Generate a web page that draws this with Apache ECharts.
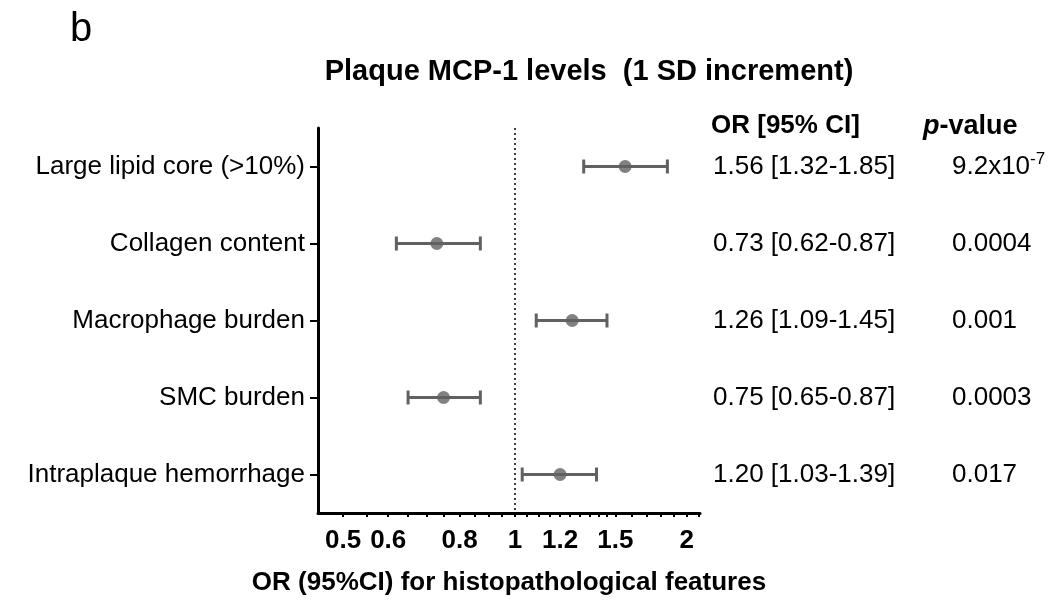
<!DOCTYPE html>
<html>
<head>
<meta charset="utf-8">
<script src="https://cdn.jsdelivr.net/npm/echarts@6/dist/echarts.min.js"></script>
<style>html,body{margin:0;padding:0;background:#fff;}#c{width:1053px;height:601px;}</style>
</head>
<body>
<div id="c"></div>
<script>
const categories = ['Large lipid core (>10%)', 'Collagen content', 'Macrophage burden', 'SMC burden', 'Intraplaque hemorrhage'];
const orValues = [1.56, 0.73, 1.26, 0.75, 1.20];
const ciLower = [1.32, 0.62, 1.09, 0.65, 1.03];
const ciUpper = [1.85, 0.87, 1.45, 0.87, 1.39];
const orText = ['1.56 [1.32-1.85]', '0.73 [0.62-0.87]', '1.26 [1.09-1.45]', '0.75 [0.65-0.87]', '1.20 [1.03-1.39]'];
const pText = ['9.2x10{sup|-7}', '0.0004', '0.001', '0.0003', '0.017'];
const xTickLabels = [0.5, 0.6, 0.8, 1, 1.2, 1.5, 2];
const xMinorTicks = [0.45, 0.5, 0.55, 0.6, 0.65, 0.7, 0.75, 0.8, 0.85, 0.9, 0.95, 1, 1.05, 1.1, 1.15, 1.2, 1.25, 1.3, 1.35, 1.4, 1.45, 1.5, 1.6, 1.7, 1.8, 1.9, 2, 2.1];
const xMin = 0.452, xMax = 2.11;

const lg = v => Math.log10(v);
const FONT = '"Liberation Sans", Arial, Helvetica, sans-serif';
const barColor = '#616161';

const chart = echarts.init(document.getElementById('c'), null, {renderer: 'canvas'});

const errData = categories.map((c, i) => [lg(ciLower[i]), lg(ciUpper[i]), i]);
const ptData = categories.map((c, i) => [lg(orValues[i]), i]);

chart.setOption({
  animation: false,
  backgroundColor: '#fff',
  textStyle: {fontFamily: FONT},
  title: [
    {text: 'b', left: 65, top: 5, textStyle: {fontSize: 40, fontWeight: 'normal', color: '#000', fontFamily: FONT}},
    {text: 'Plaque MCP-1 levels  (1 SD increment)', left: 584, textAlign: 'center', top: 52, textStyle: {fontSize: 29, fontWeight: 'bold', color: '#000', fontFamily: FONT}},
    {text: 'OR [95% CI]', left: 706, top: 108, textStyle: {fontSize: 26, fontWeight: 'bold', color: '#000', fontFamily: FONT}},
    {text: '{i|p}-value', left: 918, top: 108, textStyle: {fontSize: 27, fontWeight: 'bold', color: '#000', fontFamily: FONT,
      rich: {i: {fontSize: 27, fontWeight: 'bold', fontStyle: 'italic', color: '#000', fontFamily: FONT}}}}
  ],
  grid: {left: 318, right: 353, top: 128, bottom: 77, containLabel: false},
  xAxis: {
    type: 'value',
    min: lg(xMin), max: lg(xMax),
    splitLine: {show: false},
    axisLine: {show: true, onZero: false, lineStyle: {color: '#000', width: 3}},
    axisTick: {show: true, customValues: xMinorTicks.map(lg), length: 4, lineStyle: {color: '#000', width: 2}},
    axisLabel: {
      customValues: xTickLabels.map(lg), color: '#000', fontSize: 26, fontWeight: 'bold', margin: 15, fontFamily: FONT,
      formatter: v => String(Number(Math.pow(10, v).toFixed(2)))
    },
    name: 'OR (95%CI) for histopathological features',
    nameLocation: 'middle', nameGap: 57,
    nameTextStyle: {fontSize: 26, fontWeight: 'bold', color: '#000', fontFamily: FONT}
  },
  yAxis: [
    {
      type: 'category', data: categories, inverse: true,
      axisLine: {show: true, onZero: false, lineStyle: {color: '#000', width: 3}},
      axisTick: {show: true, alignWithLabel: true, length: 8, lineStyle: {color: '#000', width: 2}},
      axisLabel: {color: '#000', fontSize: 26, margin: 13, fontFamily: FONT},
      splitLine: {show: false}
    },
    {
      type: 'category', data: orText, inverse: true, position: 'right',
      axisLine: {show: false, onZero: false}, axisTick: {show: false},
      axisLabel: {color: '#000', fontSize: 26, margin: 13, fontFamily: FONT}
    },
    {
      type: 'category', data: pText, inverse: true, position: 'right', offset: 239,
      axisLine: {show: false, onZero: false}, axisTick: {show: false},
      axisLabel: {color: '#000', fontSize: 26, margin: 13, fontFamily: FONT,
        formatter: v => v,
        rich: {sup: {fontSize: 17, verticalAlign: 'top', padding: [0, 0, 15, 0], color: '#000', fontFamily: FONT}}}
    }
  ],
  series: [
    {
      type: 'custom',
      yAxisIndex: 0,
      encode: {x: [0, 1], y: 2},
      data: errData,
      renderItem: function (params, api) {
        const p1 = api.coord([api.value(0), api.value(2)]);
        const p2 = api.coord([api.value(1), api.value(2)]);
        const h = 7;
        const st = {stroke: barColor, lineWidth: 3};
        return {
          type: 'group',
          children: [
            {type: 'line', shape: {x1: p1[0], y1: p1[1], x2: p2[0], y2: p2[1]}, style: st},
            {type: 'line', shape: {x1: p1[0], y1: p1[1] - h, x2: p1[0], y2: p1[1] + h}, style: st},
            {type: 'line', shape: {x1: p2[0], y1: p2[1] - h, x2: p2[0], y2: p2[1] + h}, style: st}
          ]
        };
      },
      z: 2
    },
    {
      type: 'scatter',
      yAxisIndex: 0,
      data: ptData,
      symbol: 'circle',
      symbolSize: 13,
      itemStyle: {color: barColor},
      z: 3,
      markLine: {
        silent: true,
        symbol: ['none', 'none'],
        label: {show: false},
        lineStyle: {color: '#000', type: [2, 3], width: 1.5},
        data: [{xAxis: 0}]
      }
    }
  ]
});
</script>
</body>
</html>
